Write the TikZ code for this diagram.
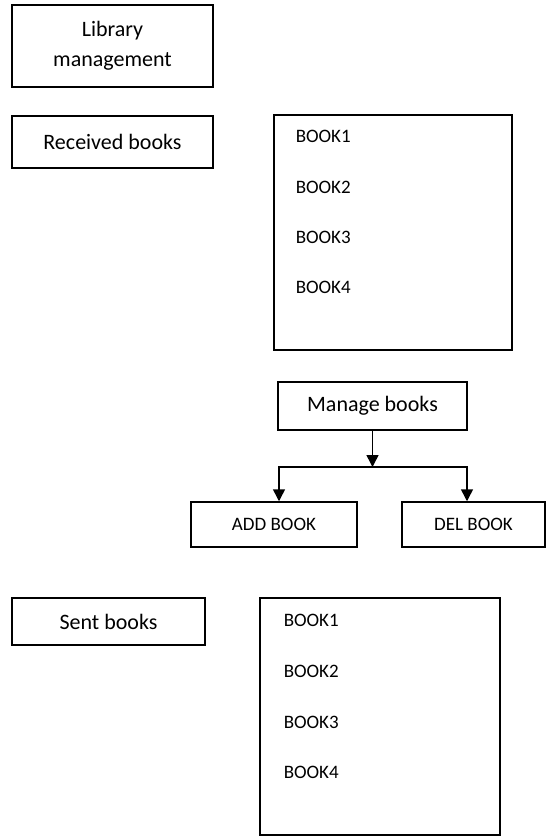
\documentclass[tikz,border=0pt]{standalone}
\usepackage{fontspec}
\setmainfont{Carlito}
\usetikzlibrary{positioning, arrows.meta}

\begin{document}
\begin{tikzpicture}[x=1pt,y=-1pt,->,>={Triangle[width=12pt,length=12pt]},line width=1.5pt,
    box/.style={draw,inner sep=0pt,align=center,font=\fontsize{22}{30}\selectfont},
    smallbox/.style={box,font=\fontsize{19}{22}\selectfont},
    item/.style={anchor=base west,inner sep=0pt,font=\fontsize{19}{22}\selectfont}]
      \useasboundingbox (0,0) rectangle (546,838);
      \node[box,minimum width=201pt,minimum height=82pt] (lib) at (112.5,46) {Library\\management};
      \node[box,minimum width=201pt,minimum height=52pt] (recv) at (112.5,142) {Received books};
      \node[box,minimum width=238pt,minimum height=235pt] (recvlist) at (393,232.5) {};
      \foreach \i/\y in {1/142,2/193,3/243,4/293}
        \node[item] (recvbook\i) at (295,\y) {BOOK\i};
      \node[box,minimum width=189pt,minimum height=48pt] (manage) at (372.5,406) {Manage books};
      \node[smallbox,minimum width=166pt,minimum height=45pt] (add) at (274,524.5) {ADD BOOK};
      \node[smallbox,minimum width=143pt,minimum height=45pt] (del) at (473.5,524.5) {DEL BOOK};
      \coordinate (split) at (manage.south |- 0,467);
      \draw (manage.south) -- (split);
      \draw (split) -| ([xshift=5pt]add.north);
      \draw (split) -| ([xshift=-6.5pt]del.north);
      \node[box,minimum width=193pt,minimum height=47pt] (sent) at (108.5,621.5) {Sent books};
      \node[box,minimum width=240pt,minimum height=237pt] (sentlist) at (380,716.5) {};
      \foreach \i/\y in {1/626,2/677,3/728,4/778}
        \node[item] (sentbook\i) at (283,\y) {BOOK\i};
    \end{tikzpicture}
\end{document}
